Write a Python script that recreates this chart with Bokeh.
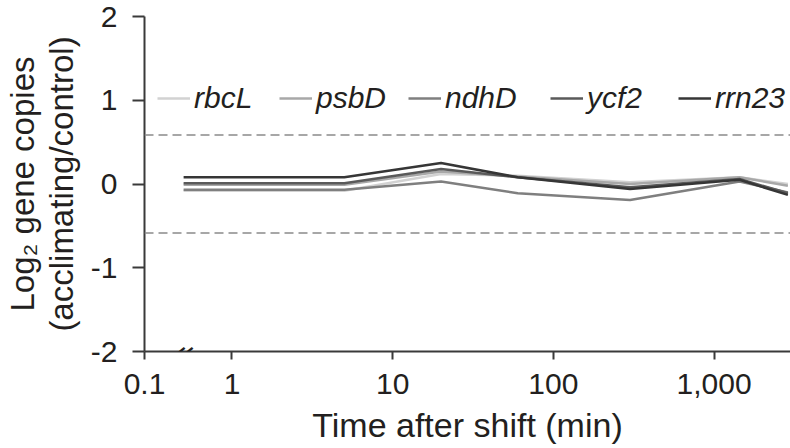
from bokeh.plotting import figure
from bokeh.models import (Legend, LegendItem, Span, Label, FixedTicker, Range1d)
from bokeh.embed import file_html
from bokeh.resources import INLINE

# ---- data ----
TIME = [0.5, 5, 20, 60, 300, 1440, 2880]          # minutes after shift
GENES = ["rbcL", "psbD", "ndhD", "ycf2", "rrn23"]
rbcL = [-0.08, -0.08, 0.12, 0.10, 0.02, 0.08, 0.00]
psbD = [-0.01, -0.01, 0.15, 0.09, 0.00, 0.08, -0.02]
ndhD = [-0.07, -0.07, 0.03, -0.11, -0.19, 0.03, -0.10]
ycf2 = [0.01, 0.01, 0.18, 0.08, -0.04, 0.06, -0.11]
rrn23 = [0.08, 0.08, 0.25, 0.08, -0.06, 0.05, -0.13]
SERIES = [rbcL, psbD, ndhD, ycf2, rrn23]
COLORS = ["#d2d2d2", "#a8a8a8", "#7f7f7f", "#5a5a5a", "#363636"]

THRESHOLDS = [0.585, -0.585]                       # log2(1.5) fold-change limits
X_TICKS = [0.2855, 1, 10, 100, 1000]               # first tick is the broken-axis "0.1"
X_LABELS = ["0.1", "1", "10", "100", "1,000"]
X_START, X_END = 0.2855, 2990
BREAK_X = 0.466
Y_TICKS = [-2, -1, 0, 1, 2]
Y_LABELS = ["-2", "-1", "0", "1", "2"]
LEGEND_X = [13, 135, 264, 406, 534]               # legend item offsets in the frame (px)

FONT = "Liberation Sans"
TXT = "#231f20"
AX = "#3a3a3a"

p = figure(width=790, height=448, x_axis_type="log",
           x_range=Range1d(X_START, X_END), y_range=Range1d(-2, 2),
           output_backend="svg", toolbar_location=None,
           min_border_left=144, min_border_right=0,
           min_border_top=16, min_border_bottom=97)
p.grid.visible = False
p.outline_line_color = None
p.background_fill_color = "white"

for lv in THRESHOLDS:
    p.add_layout(Span(location=lv, dimension="width", line_color="#8a8a8a",
                      line_dash="9 5", line_width=1.5))

renderers = []
for name, ys, c in zip(GENES, SERIES, COLORS):
    r = p.line(TIME, ys, line_color=c, line_width=2.5)
    renderers.append((name, r))

for (name, r), lx in zip(renderers, LEGEND_X):
    lg = Legend(items=[LegendItem(label=name, renderers=[r])],
                orientation="horizontal", location=(lx, 236),
                label_text_font=FONT, label_text_font_style="italic",
                label_text_font_size="30px", label_text_color=TXT,
                glyph_width=33, label_standoff=4, spacing=0,
                padding=0, margin=0, background_fill_alpha=0,
                border_line_alpha=0)
    p.add_layout(lg)

xa = p.xaxis[0]
ya = p.yaxis[0]
xa.ticker = FixedTicker(ticks=X_TICKS)
xa.major_label_overrides = {t: l for t, l in zip(X_TICKS, X_LABELS)}
ya.ticker = FixedTicker(ticks=Y_TICKS)
ya.major_label_overrides = {t: l for t, l in zip(Y_TICKS, Y_LABELS)}

for ax in (xa, ya):
    ax.axis_line_color = AX
    ax.axis_line_width = 2
    ax.major_tick_line_color = AX
    ax.major_tick_line_width = 2
    ax.major_tick_in = 0
    ax.minor_tick_in = 0
    ax.minor_tick_out = 0
    ax.major_label_text_font = FONT
    ax.major_label_text_font_size = "30px"
    ax.major_label_text_color = TXT
    ax.axis_label_text_font = FONT
    ax.axis_label_text_font_style = "normal"
    ax.axis_label_text_color = TXT

xa.major_tick_out = 8
xa.major_label_standoff = 14
xa.axis_label = "Time after shift (min)"
xa.axis_label_text_font_size = "34px"
xa.axis_label_standoff = 9

ya.major_tick_out = 12
ya.major_label_standoff = 15
ya.axis_label = "Log\u2082 gene copies\n(acclimating/control)"
ya.axis_label_text_font_size = "33px"
ya.axis_label_text_line_height = 1.05
ya.axis_label_standoff = 8

for dx in (-4, 4):
    p.add_layout(Label(x=BREAK_X, y=-2, text="\u2013", angle=0.68,
                       x_offset=dx, y_offset=0,
                       text_align="center", text_baseline="middle",
                       text_font=FONT, text_font_size="36px", text_color=TXT))

open("out.html", "w").write(file_html(p, INLINE))
